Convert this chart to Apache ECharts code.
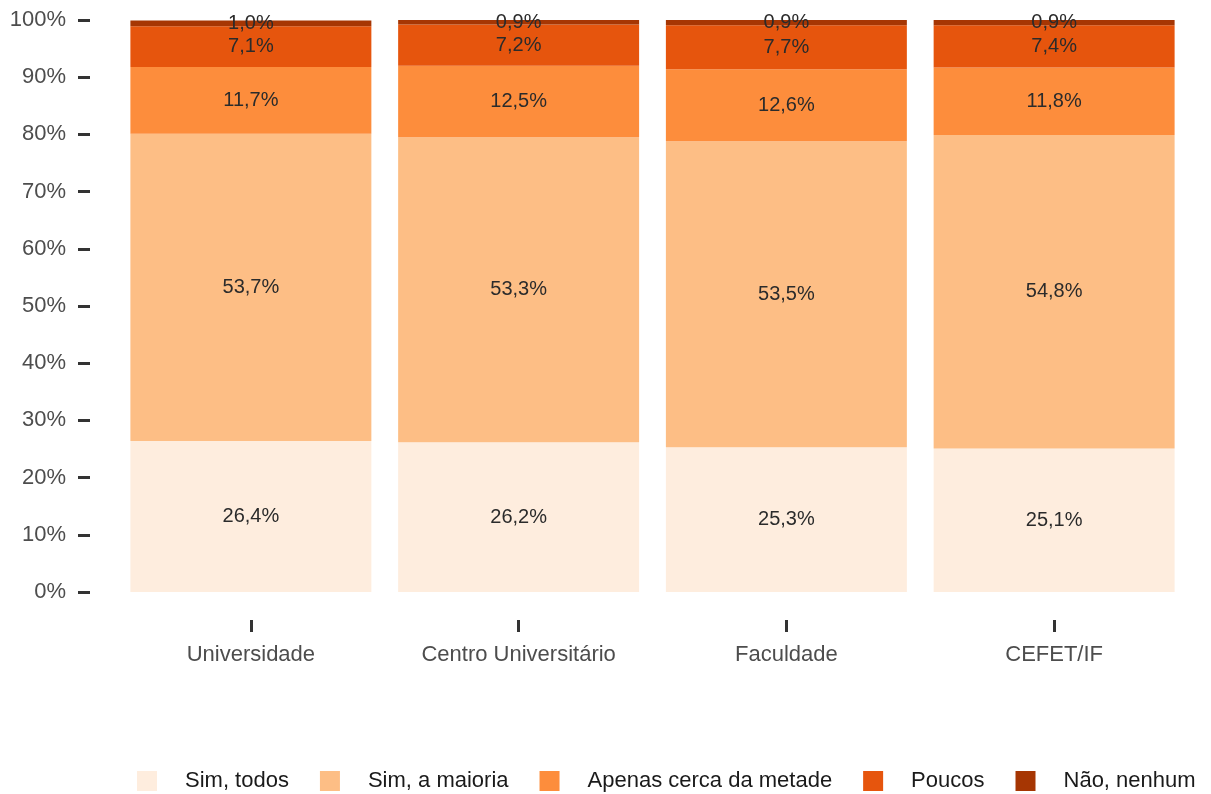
<!DOCTYPE html>
<html><head><meta charset="utf-8">
<script src="https://cdn.jsdelivr.net/npm/echarts@6/dist/echarts.min.js"></script>
<style>html,body{margin:0;padding:0;background:#fff}#c{width:1211px;height:794px}</style>
</head><body><div id="c"></div>
<script>
const categories = ['Universidade', 'Centro Universitário', 'Faculdade', 'CEFET/IF'];
const seriesNames = ['Sim, todos', 'Sim, a maioria', 'Apenas cerca da metade', 'Poucos', 'Não, nenhum'];
const simTodos = [26.4, 26.2, 25.3, 25.1];
const simMaioria = [53.7, 53.3, 53.5, 54.8];
const apenasMetade = [11.7, 12.5, 12.6, 11.8];
const poucos = [7.1, 7.2, 7.7, 7.4];
const naoNenhum = [1.0, 0.9, 0.9, 0.9];
const colors = ['#feedde', '#fdbe85', '#fd8d3c', '#e6550d', '#a63603'];
const yTicks = [0, 10, 20, 30, 40, 50, 60, 70, 80, 90, 100];

const values = [simTodos, simMaioria, apenasMetade, poucos, naoNenhum];
const fmt = v => v.toFixed(1).replace('.', ',') + '%';
const font = 'Liberation Sans, Arial, sans-serif';

const chart = echarts.init(document.getElementById('c'));
chart.setOption({
  animation: false,
  color: colors,
  grid: { left: 117, right: 23, top: 20, bottom: 202, containLabel: false },
  legend: {
    top: 765, left: 132,
    itemWidth: 20, itemHeight: 20, itemGap: 31,
    icon: 'rect',
    textStyle: { fontFamily: font, fontSize: 22, color: '#1a1a1a', padding: [0, 0, 0, 23] },
    data: seriesNames
  },
  xAxis: {
    type: 'category', data: categories,
    offset: 28,
    axisLine: { show: false, onZero: false },
    axisTick: { show: true, alignWithLabel: true, length: 12, lineStyle: { color: '#333', width: 3 } },
    axisLabel: { margin: 24, fontFamily: font, fontSize: 22, color: '#4d4d4d' }
  },
  yAxis: {
    type: 'value', min: 0, max: 100, interval: 10,
    offset: 27,
    splitLine: { show: false },
    axisLine: { show: false },
    axisTick: { show: true, length: 12, lineStyle: { color: '#333', width: 3 } },
    axisLabel: { margin: 24, fontFamily: font, fontSize: 22, color: '#4d4d4d',
      formatter: v => yTicks.includes(v) ? v + '%' : '' }
  },
  series: seriesNames.map((n, i) => ({
    name: n, type: 'bar', stack: 'total', barWidth: '90%',
    data: values[i],
    label: { show: true, position: 'inside', formatter: p => fmt(p.value),
      fontFamily: font, fontSize: 20, color: '#2b2b2b' }
  }))
});
</script></body></html>
